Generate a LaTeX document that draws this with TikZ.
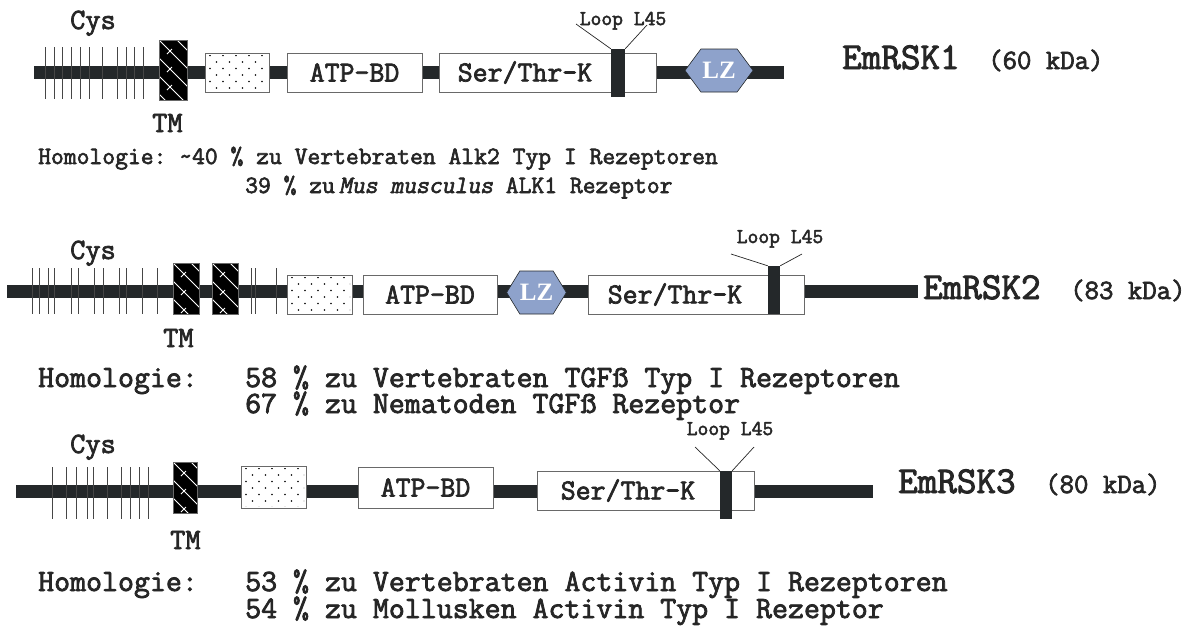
\documentclass[tikz,border=0pt]{standalone}
\usepackage{fontspec}
\setmonofont{Latin Modern Mono}[
  BoldFont={Latin Modern Mono}, BoldFeatures={FakeBold=2.5},
  BoldItalicFont={Latin Modern Mono}, BoldItalicFeatures={FakeBold=2.5, FakeSlant=0.2}]
\newfontfamily\lzfont{Liberation Serif}
\usetikzlibrary{shapes.symbols, positioning}
\definecolor{bbgray}{RGB}{36,40,42}
\definecolor{boxgray}{RGB}{105,105,105}
\definecolor{tickgray}{RGB}{70,70,70}
\definecolor{txtgray}{RGB}{38,38,38}
\definecolor{lzblue}{RGB}{142,162,203}

\newcommand{\fsz}[1]{\fontsize{#1}{#1}\selectfont}

% stippled box: x1 y1 x2 y2
\newcommand{\stipple}[4]{%
  \begin{scope}
    \clip (#1+2,#2+2) rectangle (#3-2,#4-2);
    \foreach \r in {0,...,6}{
      \foreach \c in {0,...,5}{
        \fill[black] ({#1+5+\c*13+mod(\r,2)*6.5},{#2+2.5+\r*6.5}) circle (0.8pt);
      }
    }
  \end{scope}}

% hatched TM block: x1 y1 x2 y2
\newcommand{\tmhatch}[4]{%
  \fill[black] (#1,#2) rectangle (#3,#4);
  \begin{scope}
    \clip (#1,#2) rectangle (#3,#4);
    \foreach \k in {-3,...,4}{
      \draw[white, line width=1pt] (#1,{#2+\k*18}) -- ++(45,45);
      \draw[white, line width=1pt] ({#1+13},{#2+\k*18+9}) -- ++(-5,5);
    }
  \end{scope}
  \draw[boxgray, line width=0.5pt] (#1,#2) rectangle (#3,#4);}

\begin{document}
\begin{tikzpicture}[x=1pt, y=-1pt,
  backbone/.style={draw=bbgray, line width=13pt},
  cysline/.style={draw=tickgray, line width=0.9pt},
  dombox/.style={draw=boxgray, fill=white, line width=0.8pt, inner sep=0pt, minimum height=39},
  domtext/.style={font=\ttfamily\bfseries\fsz{29}, text=txtgray},
  loopbar/.style={fill=bbgray, inner sep=0pt, minimum width=13, minimum height=48},
  loopline/.style={draw=txtgray, line width=0.7pt},
  looptext/.style={font=\ttfamily\bfseries\fsz{21}, text=txtgray, anchor=base, inner sep=0pt},
  lzhex/.style={signal, signal to=east and west, fill=lzblue, draw=bbgray, line width=0.6pt,
    text=white, font=\lzfont\bfseries\fsz{25}, inner sep=0pt, minimum height=43},
  lbl/.style={font=\ttfamily\bfseries\fsz{29.5}, text=txtgray, anchor=base west, inner sep=0pt},
  protname/.style={font=\ttfamily\bfseries\fsz{38}, text=txtgray, anchor=base west, inner sep=0pt},
  kda/.style={font=\ttfamily\bfseries\fsz{28}, text=txtgray, anchor=base west, inner sep=0pt},
  homsmall/.style={font=\ttfamily\bfseries\fsz{24.9}, text=txtgray, anchor=base west, inner sep=0pt},
  hom/.style={font=\ttfamily\bfseries\fsz{31}, text=txtgray, anchor=base west, inner sep=0pt}
]
\useasboundingbox (0,0) rectangle (1191,630);

% ---------- EmRSK1 ----------
\coordinate (a0) at (34,72);
\coordinate (a1) at (784,72);
\draw[backbone] (a0) -- (a1);
\foreach \x in {45,54,62,71,80,89,102,117,126,134,143}
  \draw[cysline] (\x,47) -- (\x,99);
\tmhatch{159}{40}{187}{100}
\node[dombox, minimum width=64, minimum height=39] (dot1) at (237,72.5) {};
\stipple{205}{53}{269}{92}
\node[dombox, domtext, minimum width=135] (atp1) at (354.5,72.5) {ATP\textendash BD};
\node[dombox, minimum width=217] (kin1) at (547.5,72.5) {};
\node[domtext] (kint1) at (525,72.5) {Ser/Thr\textendash K};
\node[loopbar, minimum width=14] (bar1) at (618,73) {};
\coordinate (lp1a) at (576,24);
\coordinate (lp1b) at (647,25);
\draw[loopline] (lp1a) -- (bar1.north west);
\draw[loopline] (lp1b) -- (bar1.north east);
\node[looptext] (loop1) at (623,25) {Loop L45};
\node[lzhex, minimum width=68, signal pointer angle=107] (lz1) at (719,70.5) {LZ};

\node[lbl] (cys1) at (70,29) {Cys};
\node[lbl] (tm1) at (152,132) {TM};
\node[protname] (rsk1) at (842,69) {EmRSK1};
\node[kda] (kd1) at (988,69) {(60 kDa)};
\node[homsmall] (h1a) at (38,164) {Homologie: \textasciitilde40 \% zu Vertebraten Alk2 Typ I Rezeptoren};
\node[homsmall] (h1b) at (245,193) {39 \% zu\,\textit{Mus musculus} ALK1 Rezeptor};

% ---------- EmRSK2 ----------
\coordinate (b0) at (7,291);
\coordinate (b1) at (918,291);
\draw[backbone] (b0) -- (b1);
\foreach \x in {32,39,48,54,71,78,94,103,119,126,142,157,251,255,276}
  \draw[cysline] (\x,268) -- (\x,314);
\tmhatch{173}{263}{199}{314}
\tmhatch{212}{263}{238}{314}
\node[dombox, minimum width=65] (dot2) at (319.5,294.5) {};
\stipple{287}{275}{352}{314}
\node[dombox, domtext, minimum width=134] (atp2) at (430,294.5) {ATP\textendash BD};
\node[lzhex, minimum width=59, signal pointer angle=117] (lz2) at (536.5,292.5) {LZ};
\node[dombox, minimum width=216] (kin2) at (696,294.5) {};
\node[domtext] (kint2) at (675,294.5) {Ser/Thr\textendash K};
\node[loopbar, minimum width=12] (bar2) at (774,290) {};
\coordinate (lp2a) at (731,254);
\coordinate (lp2b) at (802,254);
\draw[loopline] (lp2a) -- (bar2.north west);
\draw[loopline] (lp2b) -- (bar2.north east);
\node[looptext] (loop2) at (780,243) {Loop L45};

\node[lbl] (cys2) at (70,259) {Cys};
\node[lbl] (tm2) at (163,347) {TM};
\node[protname] (rsk2) at (923,299) {EmRSK2};
\node[kda] (kd2) at (1070,299) {(83 kDa)};
\node[hom] (h2) at (38,387) {Homologie:};
\node[hom] (h2a) at (245,387) {58 \% zu Vertebraten TGFß Typ I Rezeptoren};
\node[hom] (h2b) at (245,413) {67 \% zu Nematoden TGFß Rezeptor};

% ---------- EmRSK3 ----------
\coordinate (c0) at (16,491);
\coordinate (c1) at (873,491);
\draw[backbone] (c0) -- (c1);
\foreach \x in {52,66,76,87,93,107,121,130,139,148}
  \draw[cysline] (\x,467) -- (\x,519);
\tmhatch{173}{462}{197}{513}
\node[dombox, minimum width=65, minimum height=42] (dot3) at (273.5,487) {};
\stipple{241}{466}{306}{508}
\node[dombox, domtext, minimum width=135, minimum height=41] (atp3) at (425.5,487.5) {ATP\textendash BD};
\node[dombox, minimum width=217] (kin3) at (645.5,490.5) {};
\node[domtext] (kint3) at (628,490.5) {Ser/Thr\textendash K};
\node[loopbar, minimum width=12] (bar3) at (726,495) {};
\coordinate (lp3a) at (695,447);
\coordinate (lp3b) at (754,447);
\draw[loopline] (lp3a) -- (bar3.north west);
\draw[loopline] (lp3b) -- (bar3.north east);
\node[looptext] (loop3) at (730,435) {Loop L45};

\node[lbl] (cys3) at (70,453) {Cys};
\node[lbl] (tm3) at (170,549) {TM};
\node[protname] (rsk3) at (898,493) {EmRSK3};
\node[kda] (kd3) at (1045,493) {(80 kDa)};
\node[hom] (h3) at (38,591) {Homologie:};
\node[hom] (h3a) at (245,591) {53 \% zu Vertebraten Activin Typ I Rezeptoren};
\node[hom] (h3b) at (245,618) {54 \% zu Mollusken Activin Typ I Rezeptor};
\end{tikzpicture}
\end{document}
